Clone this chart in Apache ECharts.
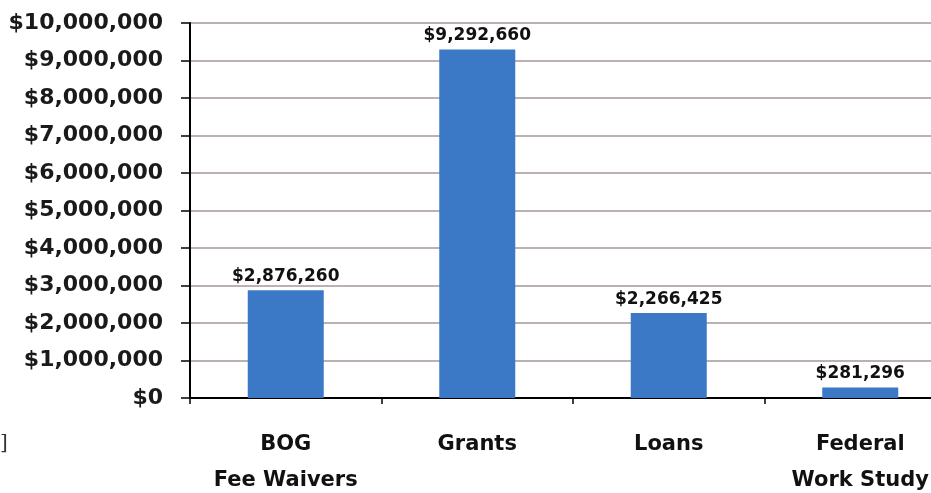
<!DOCTYPE html>
<html>
<head>
<meta charset="utf-8">
<script src="https://cdn.jsdelivr.net/npm/echarts@6/dist/echarts.min.js"></script>
<style>html,body{margin:0;padding:0;background:#fff}#c{width:931px;height:493px}</style>
</head>
<body>
<div id="c"></div>
<script>
const categories = ['BOG\nFee Waivers', 'Grants', 'Loans', 'Federal\nWork Study'];
const values = [2876260, 9292660, 2266425, 281296];
const yMin = 0, yMax = 10000000, yStep = 1000000;

const fmt = v => '$' + Math.round(v).toLocaleString('en-US');
const FONT = '"DejaVu Sans"';
const chart = echarts.init(document.getElementById('c'), null, {renderer: 'canvas'});
chart.setOption({
  animation: false,
  backgroundColor: '#ffffff',
  grid: {left: 190, top: 23, width: 766, height: 375, outerBoundsMode: 'none', containLabel: false},
  xAxis: {
    type: 'category',
    data: categories,
    axisLine: {lineStyle: {color: '#000', width: 2}},
    axisTick: {show: true, length: 6, lineStyle: {color: '#000', width: 1.5}},
    axisLabel: {
      color: '#111', fontFamily: FONT, fontWeight: 'bold', fontSize: 21,
      lineHeight: 36, margin: 29, interval: 0
    }
  },
  yAxis: {
    type: 'value',
    min: yMin, max: yMax, interval: yStep,
    axisLine: {show: true, lineStyle: {color: '#000', width: 2}},
    axisTick: {show: true, length: 9, lineStyle: {color: '#000', width: 1.5}},
    splitLine: {lineStyle: {color: '#a39995', width: 1.5}},
    axisLabel: {
      color: '#1a1a1a', fontFamily: FONT, fontWeight: 'bold', fontSize: 22,
      margin: 27, formatter: fmt
    }
  },
  series: [{
    type: 'bar',
    data: values,
    barWidth: 76,
    itemStyle: {color: '#3b79c7'},
    label: {
      show: true, position: 'top', distance: 5,
      color: '#111', fontFamily: FONT, fontWeight: 'bold', fontSize: 17,
      formatter: p => fmt(p.value)
    }
  }],
  graphic: [{
    type: 'text', left: 0, top: 434,
    style: {text: ']', fill: '#333', font: '20px "DejaVu Serif"'}
  }]
});
</script>
</body>
</html>
